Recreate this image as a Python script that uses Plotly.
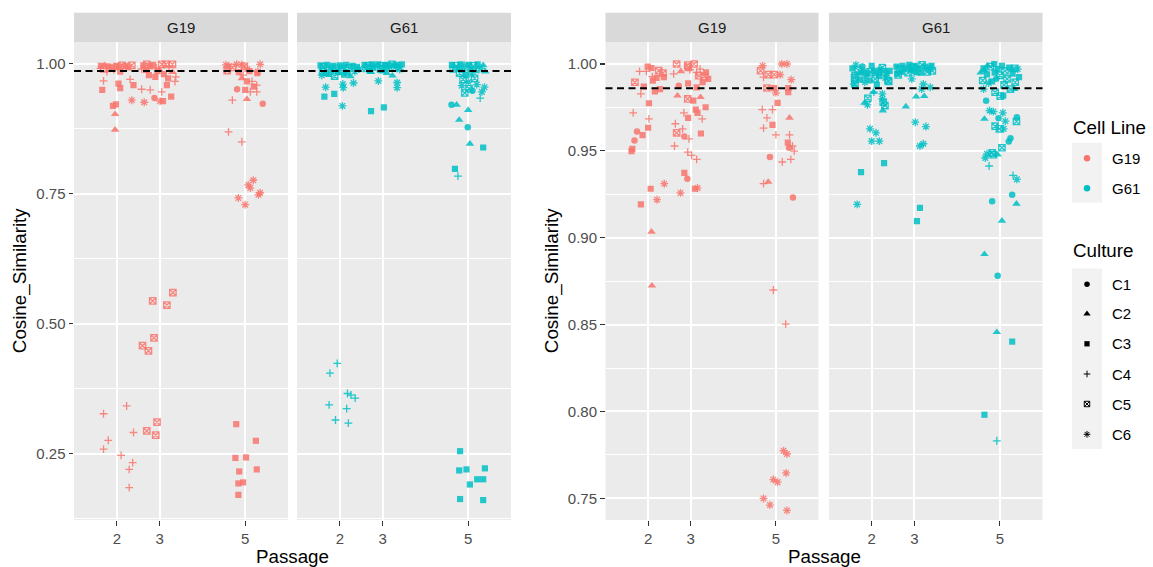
import plotly.graph_objects as go

# ---------------- data ----------------
CULTURES = ["C1", "C2", "C3", "C4", "C5", "C6"]
CELL_LINES = ["G19", "G61"]
PASSAGE_TICKS = [2, 3, 5]
FULL_Y_TICKS = [0.25, 0.50, 0.75, 1.00]
ZOOM_Y_TICKS = [0.75, 0.80, 0.85, 0.90, 0.95, 1.00]
REFERENCE_LINE = 0.986

# (culture, jittered passage, cosine similarity) -- left (full range) plot
FULL_G19 = [
    ("C3", 1.63, 0.996), ("C2", 1.72, 0.997), ("C3", 1.80, 0.995), ("C5", 1.70, 0.990),
    ("C4", 1.62, 0.991), ("C3", 1.88, 0.993), ("C3", 1.98, 0.996), ("C3", 2.05, 0.994),
    ("C5", 2.12, 0.997), ("C3", 2.20, 0.996), ("C4", 1.93, 0.989), ("C3", 2.27, 0.993),
    ("C5", 2.35, 0.997), ("C3", 2.08, 0.985), ("C4", 1.77, 0.985),
    ("C2", 1.96, 0.873), ("C2", 1.96, 0.903), ("C3", 1.91, 0.919), ("C3", 1.98, 0.922),
    ("C3", 1.66, 0.950), ("C4", 1.69, 0.967), ("C3", 2.04, 0.962), ("C3", 2.08, 0.953),
    ("C3", 2.39, 0.959), ("C4", 2.31, 0.970), ("C6", 2.35, 0.930), ("C6", 2.64, 0.926),
    ("C1", 2.88, 0.934), ("C6", 3.01, 0.928), ("C3", 3.08, 0.928), ("C4", 2.58, 0.951),
    ("C4", 2.78, 0.950), ("C4", 3.05, 0.946), ("C3", 3.27, 0.937), ("C4", 3.36, 0.966),
    ("C3", 3.17, 0.959),
    ("C3", 2.62, 0.997), ("C5", 2.70, 0.999), ("C3", 2.78, 0.995), ("C3", 2.85, 0.998),
    ("C4", 2.92, 0.992), ("C5", 3.05, 0.999), ("C5", 3.15, 0.999), ("C5", 3.30, 0.999),
    ("C4", 3.22, 0.995), ("C3", 2.68, 0.988), ("C3", 2.95, 0.986), ("C2", 3.30, 0.984),
    ("C4", 3.38, 0.975), ("C3", 2.75, 0.978), ("C3", 3.10, 0.980), ("C4", 2.58, 0.990),
    ("C3", 3.20, 0.972), ("C3", 2.90, 0.975), ("C2", 3.00, 0.988),
    ("C5", 3.31, 0.560), ("C5", 2.84, 0.544), ("C5", 3.17, 0.536), ("C5", 2.87, 0.473),
    ("C5", 2.60, 0.458), ("C5", 2.74, 0.448), ("C4", 2.23, 0.342), ("C4", 1.69, 0.327),
    ("C5", 2.94, 0.311), ("C5", 2.70, 0.294), ("C5", 2.91, 0.286), ("C4", 2.39, 0.291),
    ("C4", 1.80, 0.276), ("C4", 1.69, 0.259), ("C4", 2.10, 0.247), ("C4", 2.37, 0.233),
    ("C4", 2.29, 0.220), ("C4", 2.29, 0.185),
    ("C6", 4.55, 0.998), ("C6", 4.62, 0.995), ("C5", 4.70, 0.993), ("C6", 4.80, 0.999),
    ("C6", 4.92, 0.998), ("C5", 4.98, 0.995), ("C6", 5.05, 0.990), ("C3", 5.10, 0.986),
    ("C5", 4.58, 0.987), ("C3", 4.85, 0.984), ("C6", 5.35, 0.999), ("C6", 5.30, 0.985),
    ("C3", 5.28, 0.982), ("C4", 4.95, 0.978),
    ("C2", 4.92, 0.972), ("C3", 5.04, 0.966), ("C4", 5.16, 0.966), ("C3", 5.00, 0.950),
    ("C4", 5.12, 0.946), ("C4", 5.27, 0.946), ("C4", 5.27, 0.959), ("C3", 5.20, 0.956),
    ("C4", 4.70, 0.930), ("C1", 4.81, 0.951), ("C2", 5.04, 0.932), ("C1", 5.41, 0.923),
    ("C4", 4.61, 0.869), ("C4", 4.92, 0.850),
    ("C6", 5.19, 0.776), ("C6", 5.07, 0.767), ("C6", 5.12, 0.761), ("C6", 5.31, 0.748),
    ("C6", 5.35, 0.752), ("C6", 4.84, 0.742), ("C6", 5.00, 0.729),
    ("C3", 4.79, 0.307), ("C3", 5.25, 0.275), ("C3", 4.77, 0.242), ("C3", 5.02, 0.243),
    ("C3", 4.86, 0.216), ("C3", 5.27, 0.220), ("C3", 4.84, 0.193), ("C3", 4.95, 0.195),
    ("C3", 4.84, 0.171),
]

FULL_G61 = [
    ("C3", 1.55, 0.997), ("C5", 1.62, 0.994), ("C3", 1.70, 0.998), ("C6", 1.78, 0.993),
    ("C3", 1.85, 0.996), ("C5", 1.92, 0.991), ("C3", 2.00, 0.997), ("C6", 2.08, 0.994),
    ("C3", 2.15, 0.998), ("C5", 2.22, 0.992), ("C3", 2.30, 0.996), ("C3", 2.40, 0.994),
    ("C5", 1.60, 0.985), ("C3", 1.68, 0.982), ("C6", 1.80, 0.987), ("C3", 1.95, 0.984),
    ("C5", 2.05, 0.986), ("C3", 2.18, 0.983), ("C6", 2.35, 0.985), ("C2", 1.75, 0.978),
    ("C2", 2.25, 0.976), ("C6", 1.58, 0.978), ("C5", 1.88, 0.976), ("C3", 2.10, 0.979),
    ("C6", 2.45, 0.990),
    ("C6", 1.67, 0.955), ("C3", 1.87, 0.942), ("C3", 1.64, 0.937), ("C6", 2.07, 0.961),
    ("C6", 2.08, 0.954), ("C6", 2.32, 0.963), ("C6", 2.06, 0.919),
    ("C3", 2.58, 0.998), ("C5", 2.66, 0.996), ("C3", 2.74, 0.999), ("C6", 2.82, 0.997),
    ("C3", 2.90, 0.999), ("C5", 2.98, 0.996), ("C3", 3.06, 0.998), ("C3", 3.14, 0.997),
    ("C5", 3.22, 0.999), ("C3", 3.30, 0.998), ("C6", 3.38, 0.996), ("C3", 3.45, 0.999),
    ("C5", 2.62, 0.991), ("C3", 2.78, 0.992), ("C5", 2.95, 0.990), ("C3", 3.10, 0.991),
    ("C5", 3.28, 0.992), ("C6", 3.40, 0.989), ("C3", 2.70, 0.987), ("C2", 3.00, 0.985),
    ("C6", 2.90, 0.967), ("C6", 3.34, 0.964), ("C6", 3.34, 0.954), ("C3", 2.73, 0.909),
    ("C3", 3.03, 0.916), ("C2", 2.73, 0.984), ("C2", 3.10, 0.982), ("C2", 3.23, 0.977),
    ("C3", 4.62, 0.998), ("C5", 4.72, 0.996), ("C3", 4.82, 0.999), ("C6", 4.92, 0.997),
    ("C3", 5.02, 0.998), ("C5", 5.12, 0.996), ("C3", 5.22, 0.999), ("C2", 5.35, 0.997),
    ("C5", 4.65, 0.990), ("C3", 4.78, 0.991), ("C6", 4.90, 0.988), ("C3", 5.05, 0.990),
    ("C5", 5.18, 0.989), ("C6", 5.30, 0.991), ("C5", 4.80, 0.982), ("C3", 4.95, 0.978),
    ("C6", 5.08, 0.980), ("C5", 4.88, 0.970), ("C6", 5.00, 0.965), ("C5", 5.15, 0.972),
    ("C6", 4.85, 0.958), ("C5", 5.02, 0.952), ("C6", 5.20, 0.960), ("C1", 5.10, 0.948),
    ("C5", 4.92, 0.944), ("C6", 5.38, 0.955), ("C2", 5.40, 0.985),
    ("C1", 4.61, 0.921), ("C2", 4.73, 0.921), ("C2", 5.00, 0.911), ("C2", 4.79, 0.892),
    ("C1", 4.99, 0.878), ("C2", 5.04, 0.846), ("C3", 5.35, 0.839), ("C3", 4.69, 0.798),
    ("C4", 4.76, 0.784), ("C4", 5.28, 0.934), ("C6", 5.32, 0.946),
    ("C4", 1.94, 0.424), ("C4", 1.77, 0.405), ("C4", 2.18, 0.366), ("C4", 2.26, 0.363),
    ("C4", 2.36, 0.357), ("C4", 1.75, 0.344), ("C4", 2.16, 0.337), ("C4", 1.90, 0.315),
    ("C4", 2.20, 0.309),
    ("C3", 4.81, 0.255), ("C3", 4.79, 0.218), ("C3", 4.96, 0.220), ("C3", 5.39, 0.222),
    ("C3", 5.04, 0.191), ("C3", 5.21, 0.201), ("C3", 5.35, 0.201), ("C3", 4.81, 0.163),
    ("C3", 5.35, 0.161),
]

# right (zoomed) plot
ZOOM_G19 = [
    ("C5", 2.67, 1.000), ("C3", 1.99, 0.9985), ("C3", 2.08, 0.9977), ("C4", 1.80, 0.9958),
    ("C4", 1.96, 0.9958), ("C5", 2.25, 0.9962), ("C5", 2.35, 0.9947), ("C4", 2.10, 0.9927),
    ("C3", 2.11, 0.9904), ("C3", 2.20, 0.9920), ("C3", 2.37, 0.9924), ("C5", 1.69, 0.9895),
    ("C3", 1.90, 0.9870), ("C3", 2.28, 0.9856), ("C3", 2.16, 0.9843), ("C4", 1.83, 0.9828),
    ("C3", 2.02, 0.9774), ("C4", 1.65, 0.9719), ("C4", 2.02, 0.9684), ("C3", 2.00, 0.9633),
    ("C1", 1.74, 0.9611), ("C3", 1.87, 0.9591), ("C1", 1.68, 0.9560), ("C3", 1.63, 0.9512),
    ("C3", 1.61, 0.9499), ("C6", 2.38, 0.9311), ("C3", 2.06, 0.9282), ("C6", 2.21, 0.9219),
    ("C3", 1.83, 0.9192), ("C2", 2.08, 0.9034), ("C2", 2.09, 0.8724),
    ("C5", 2.93, 0.9994), ("C5", 3.08, 1.000), ("C2", 2.77, 0.9958), ("C4", 2.60, 0.9943),
    ("C5", 2.94, 0.9981), ("C4", 2.98, 0.9967), ("C4", 3.14, 0.9952), ("C4", 3.22, 0.9971),
    ("C3", 3.36, 0.9952), ("C5", 3.19, 0.9933), ("C5", 3.32, 0.9929), ("C3", 3.28, 0.9895),
    ("C3", 3.41, 0.9914), ("C1", 2.72, 0.9875), ("C3", 2.94, 0.9889), ("C3", 3.14, 0.9866),
    ("C2", 2.69, 0.9818), ("C5", 2.93, 0.9799), ("C3", 3.06, 0.9789), ("C2", 3.23, 0.9809),
    ("C3", 3.35, 0.9751), ("C3", 3.12, 0.9738), ("C3", 3.16, 0.9719), ("C4", 2.84, 0.9719),
    ("C3", 2.94, 0.9690), ("C4", 3.27, 0.9684), ("C4", 2.64, 0.9656), ("C4", 2.81, 0.9627),
    ("C5", 2.67, 0.9604), ("C3", 3.24, 0.9600), ("C1", 2.85, 0.9583), ("C4", 2.96, 0.9569),
    ("C4", 2.62, 0.9528), ("C4", 2.93, 0.9493), ("C4", 3.02, 0.9474), ("C4", 3.14, 0.9451),
    ("C3", 2.85, 0.9373), ("C1", 2.92, 0.9340), ("C3", 3.10, 0.9282), ("C6", 3.16, 0.9286),
    ("C6", 2.76, 0.9258),
    ("C6", 4.69, 0.9990), ("C6", 5.14, 1.000), ("C6", 5.26, 1.000), ("C5", 4.64, 0.9962),
    ("C4", 4.71, 0.9924), ("C5", 4.82, 0.9939), ("C5", 4.96, 0.9939), ("C6", 5.10, 0.9939),
    ("C6", 5.36, 0.9910), ("C5", 4.79, 0.9862), ("C3", 4.96, 0.9861), ("C3", 5.29, 0.9838),
    ("C3", 5.29, 0.9861), ("C6", 5.00, 0.9834), ("C3", 5.04, 0.9776), ("C4", 4.68, 0.9738),
    ("C4", 4.92, 0.9738), ("C4", 4.79, 0.9690), ("C2", 5.32, 0.9690), ("C3", 4.92, 0.9650),
    ("C4", 4.71, 0.9631), ("C4", 5.00, 0.9592), ("C4", 5.32, 0.9592), ("C3", 5.28, 0.9547),
    ("C1", 5.31, 0.9518), ("C4", 5.39, 0.9528), ("C4", 5.43, 0.9499), ("C1", 4.86, 0.9464),
    ("C4", 5.35, 0.9451), ("C4", 5.15, 0.9436), ("C4", 4.71, 0.9311), ("C2", 4.82, 0.9321),
    ("C1", 5.40, 0.9231), ("C4", 4.94, 0.8699), ("C4", 5.23, 0.8503),
    ("C6", 5.18, 0.7774), ("C6", 5.26, 0.7755), ("C6", 5.24, 0.7646), ("C6", 4.94, 0.7608),
    ("C6", 5.04, 0.7593), ("C6", 4.71, 0.7499), ("C6", 4.86, 0.7461), ("C6", 5.26, 0.7430),
]

ZOOM_G61 = [
    ("C3", 1.55, 0.9975), ("C5", 1.68, 0.9965), ("C3", 1.75, 0.9950), ("C6", 1.82, 0.9960),
    ("C3", 1.90, 0.9945), ("C5", 1.97, 0.9955), ("C3", 2.05, 0.9960), ("C6", 2.12, 0.9950),
    ("C3", 2.20, 0.9965), ("C5", 2.28, 0.9955), ("C3", 2.35, 0.9945), ("C3", 2.42, 0.9960),
    ("C5", 1.60, 0.9920), ("C3", 1.72, 0.9910), ("C6", 1.85, 0.9925), ("C3", 1.95, 0.9905),
    ("C5", 2.08, 0.9915), ("C3", 2.18, 0.9930), ("C6", 2.32, 0.9920), ("C5", 2.40, 0.9900),
    ("C1", 1.78, 0.9985), ("C3", 2.00, 0.9990), ("C5", 2.25, 0.9980), ("C6", 1.58, 0.9885),
    ("C3", 2.12, 0.9880),
    ("C6", 1.63, 0.9994), ("C5", 1.61, 0.9933), ("C5", 1.61, 0.9885), ("C6", 1.84, 0.9895),
    ("C2", 2.04, 0.9838), ("C4", 2.05, 0.9838), ("C5", 1.91, 0.9803), ("C2", 1.83, 0.9776),
    ("C6", 1.90, 0.9765), ("C5", 2.27, 0.9780), ("C5", 2.31, 0.9761), ("C2", 2.26, 0.9732),
    ("C6", 2.25, 0.9828), ("C6", 2.25, 0.9799), ("C5", 2.38, 0.9904), ("C6", 1.96, 0.9627),
    ("C6", 2.10, 0.9604), ("C6", 2.00, 0.9556), ("C6", 2.18, 0.9556), ("C3", 2.29, 0.9430),
    ("C3", 1.75, 0.9378), ("C6", 1.66, 0.9192),
    ("C3", 2.58, 0.9985), ("C5", 2.65, 0.9970), ("C3", 2.72, 0.9990), ("C6", 2.80, 0.9975),
    ("C3", 2.88, 0.9995), ("C5", 2.95, 0.9980), ("C3", 3.02, 0.9990), ("C3", 3.10, 0.9975),
    ("C5", 3.18, 0.9995), ("C3", 3.25, 0.9985), ("C6", 3.32, 0.9970), ("C3", 3.40, 0.9990),
    ("C5", 3.42, 0.9960), ("C3", 2.70, 0.9955), ("C5", 2.85, 0.9950), ("C3", 3.00, 0.9960),
    ("C3", 3.15, 0.9950), ("C5", 3.30, 0.9955), ("C1", 2.92, 0.9965), ("C2", 3.05, 0.9945),
    ("C3", 2.60, 0.9945), ("C6", 3.38, 0.9980),
    ("C5", 2.62, 0.9937), ("C6", 2.94, 0.9914), ("C6", 3.21, 0.9885), ("C6", 3.37, 0.9866),
    ("C6", 3.17, 0.9856), ("C2", 3.04, 0.9812), ("C2", 3.23, 0.9815), ("C2", 2.80, 0.9755),
    ("C6", 3.02, 0.9665), ("C6", 3.27, 0.9640), ("C6", 3.13, 0.9528), ("C6", 3.21, 0.9541),
    ("C3", 3.13, 0.9172), ("C3", 3.06, 0.9095),
    ("C3", 4.62, 0.9975), ("C5", 4.78, 0.9985), ("C3", 4.95, 0.9970), ("C3", 5.05, 0.9990),
    ("C5", 5.12, 0.9960), ("C3", 5.22, 0.9980), ("C5", 5.35, 0.9975), ("C3", 4.70, 0.9940),
    ("C3", 4.88, 0.9950), ("C5", 5.00, 0.9935), ("C3", 5.30, 0.9945), ("C5", 4.60, 0.9905),
    ("C3", 4.82, 0.9900), ("C3", 5.45, 0.9925), ("C5", 5.10, 0.9880), ("C1", 4.92, 0.9915),
    ("C2", 4.55, 0.9950),
    ("C2", 4.64, 0.9962), ("C2", 4.71, 0.9990), ("C3", 4.87, 1.000), ("C6", 5.42, 0.9971),
    ("C2", 5.29, 0.9967), ("C5", 5.17, 0.9914), ("C5", 5.36, 0.9895), ("C6", 4.74, 0.9891),
    ("C6", 4.62, 0.9856), ("C5", 4.89, 0.9838), ("C5", 5.01, 0.9815), ("C3", 5.08, 0.9818),
    ("C2", 5.34, 0.9856), ("C5", 5.25, 0.9856), ("C1", 4.68, 0.9789), ("C6", 4.76, 0.9732),
    ("C6", 4.85, 0.9726), ("C6", 5.07, 0.9719), ("C2", 4.64, 0.9684), ("C1", 4.97, 0.9688),
    ("C6", 5.13, 0.9671), ("C1", 5.40, 0.9694), ("C5", 5.39, 0.9669), ("C5", 4.89, 0.9642),
    ("C5", 4.99, 0.9627), ("C6", 5.09, 0.9627), ("C1", 5.25, 0.9573), ("C1", 5.21, 0.9554),
    ("C5", 5.05, 0.9518), ("C5", 4.82, 0.9489), ("C5", 4.85, 0.9478), ("C6", 4.70, 0.9483),
    ("C6", 4.66, 0.9459), ("C2", 4.95, 0.9478), ("C4", 4.75, 0.9413), ("C4", 5.31, 0.9359),
    ("C6", 5.40, 0.9336), ("C1", 5.29, 0.9248), ("C1", 4.82, 0.9210), ("C2", 5.39, 0.9195),
    ("C2", 5.05, 0.9097), ("C2", 4.64, 0.8905), ("C1", 4.95, 0.8781), ("C2", 4.93, 0.8456),
    ("C3", 5.29, 0.8402), ("C3", 4.64, 0.7981), ("C4", 4.93, 0.7831),
]

# ---------------- styling ----------------
W, H = 1153, 567
FONT = "Liberation Sans"
COLORS = {"G19": "#F8766D", "G61": "#00BFC4"}
SYMBOLS = {"C1": "circle", "C2": "triangle-up", "C3": "square",
           "C4": "cross-thin-open", "C5": "square-x-open", "C6": "asterisk-open"}
SIZES = {"C1": 6.5, "C2": 7.5, "C3": 6.2, "C4": 5.6, "C5": 6.4, "C6": 6.6}
OPEN = {"C4", "C5", "C6"}


def fx(p):
    return p / W


def fy(p):
    return 1 - p / H


STRIP_TOP, PANEL_TOP, PANEL_BOTTOM = 12.7, 42.3, 520.0
PANELS = {  # axis id -> (left px, right px)
    "x": (74.0, 288.0), "x2": (297.0, 511.0),
    "x3": (605.5, 818.5), "x4": (829.0, 1042.5),
}
PANEL_DATA = [("x", "y", "G19", FULL_G19), ("x2", "y", "G61", FULL_G61),
              ("x3", "y2", "G19", ZOOM_G19), ("x4", "y2", "G61", ZOOM_G61)]

fig = go.Figure()

for xa, ya, cl, rows in PANEL_DATA:
    for cu in CULTURES:
        pts = [r for r in rows if r[0] == cu]
        if not pts:
            continue
        is_open = cu in OPEN
        fig.add_trace(go.Scatter(
            x=[p[1] for p in pts], y=[p[2] for p in pts],
            xaxis=xa, yaxis=ya, mode="markers", showlegend=False,
            hoverinfo="skip",
            marker=dict(symbol=SYMBOLS[cu], size=SIZES[cu], color=COLORS[cl],
                        opacity=0.85,
                        line=dict(width=1.3 if is_open else 0, color=COLORS[cl])),
        ))

# ---- legend drawn on a hidden pixel-scaled axis ----
LEG_X0 = 1060.0
leg_items_cell = [("G19", 158.3), ("G61", 188.3)]
leg_items_cult = [("C1", 284.3), ("C2", 313.8), ("C3", 343.8), ("C4", 374.0),
                  ("C5", 404.0), ("C6", 434.3)]
for cl, yy in leg_items_cell:
    fig.add_trace(go.Scatter(x=[1087], y=[yy], xaxis="x5", yaxis="y5", mode="markers",
                             showlegend=False, hoverinfo="skip",
                             marker=dict(symbol="circle", size=6.5, color=COLORS[cl],
                                         line=dict(width=0))))
for cu, yy in leg_items_cult:
    is_open = cu in OPEN
    fig.add_trace(go.Scatter(x=[1087], y=[yy], xaxis="x5", yaxis="y5", mode="markers",
                             showlegend=False, hoverinfo="skip",
                             marker=dict(symbol=SYMBOLS[cu], size=SIZES[cu] * 0.85,
                                         color="black",
                                         line=dict(width=1.0 if is_open else 0,
                                                   color="black"))))

xbase = dict(range=[1, 6], tickmode="array", tickvals=PASSAGE_TICKS,
             ticktext=[str(t) for t in PASSAGE_TICKS], ticks="outside", ticklen=4.5,
             tickwidth=1.1, tickcolor="#333333",
             tickfont=dict(family=FONT, size=15, color="#4d4d4d"),
             showgrid=True, gridcolor="white", gridwidth=2, zeroline=False,
             showline=False, automargin=False, fixedrange=True)
ydom = [fy(PANEL_BOTTOM), fy(PANEL_TOP)]
ybase = dict(ticks="outside", ticklen=4.5, tickwidth=1.1, tickcolor="#333333",
             tickfont=dict(family=FONT, size=15, color="#4d4d4d"),
             showgrid=True, gridcolor="white", gridwidth=2, zeroline=False,
             showline=False, automargin=False, fixedrange=True, domain=ydom)

layout = dict(
    width=W, height=H, margin=dict(l=0, r=0, t=0, b=0),
    paper_bgcolor="white", plot_bgcolor="rgba(0,0,0,0)",
    font=dict(family=FONT, color="black"),
    showlegend=False,
    xaxis=dict(xbase, domain=[fx(PANELS["x"][0]), fx(PANELS["x"][1])], anchor="y"),
    xaxis2=dict(xbase, domain=[fx(PANELS["x2"][0]), fx(PANELS["x2"][1])], anchor="y"),
    xaxis3=dict(xbase, domain=[fx(PANELS["x3"][0]), fx(PANELS["x3"][1])], anchor="y2"),
    xaxis4=dict(xbase, domain=[fx(PANELS["x4"][0]), fx(PANELS["x4"][1])], anchor="y2"),
    yaxis=dict(ybase, range=[0.1227, 1.0413], tickmode="array", tickvals=FULL_Y_TICKS,
               ticktext=["%.2f" % t for t in FULL_Y_TICKS], anchor="x",
               minor=dict(tickmode="array", tickvals=[0.125, 0.375, 0.625, 0.875],
                          showgrid=True, gridcolor="white", gridwidth=1, ticks="")),
    yaxis2=dict(ybase, range=[0.7375, 1.0125], tickmode="array", tickvals=ZOOM_Y_TICKS,
                ticktext=["%.2f" % t for t in ZOOM_Y_TICKS], anchor="x3",
                minor=dict(tickmode="array",
                           tickvals=[0.775, 0.825, 0.875, 0.925, 0.975],
                           showgrid=True, gridcolor="white", gridwidth=1, ticks="")),
    xaxis5=dict(domain=[fx(LEG_X0), 1], range=[LEG_X0, W], visible=False,
                anchor="y5", fixedrange=True),
    yaxis5=dict(domain=[0, 1], range=[H, 0], visible=False, anchor="x5",
                fixedrange=True),
)
fig.update_layout(**layout)

shapes = []
annotations = []
for xa, ya, cl, _ in PANEL_DATA:
    x0, x1 = PANELS[xa]
    # panel background
    shapes.append(dict(type="rect", xref=f"{xa} domain", yref=f"{ya} domain",
                       x0=0, x1=1, y0=0, y1=1, fillcolor="#ebebeb",
                       line=dict(width=0), layer="below"))
    # strip
    shapes.append(dict(type="rect", xref="paper", yref="paper",
                       x0=fx(x0), x1=fx(x1), y0=fy(PANEL_TOP), y1=fy(STRIP_TOP),
                       fillcolor="#d9d9d9", line=dict(width=0), layer="below"))
    annotations.append(dict(text=cl, xref="paper", yref="paper",
                            x=fx((x0 + x1) / 2), y=fy((STRIP_TOP + PANEL_TOP) / 2),
                            xanchor="center", yanchor="middle", showarrow=False,
                            font=dict(family=FONT, size=15, color="#1a1a1a")))
    # reference line
    shapes.append(dict(type="line", xref=f"{xa} domain", yref=ya, x0=0, x1=1,
                       y0=REFERENCE_LINE, y1=REFERENCE_LINE,
                       line=dict(color="black", width=2, dash="7px,4.5px"),
                       layer="above"))

# axis titles
for cx in [(74 + 511) / 2, (605.5 + 1042.5) / 2]:
    annotations.append(dict(text="Passage", xref="paper", yref="paper", x=fx(cx),
                            y=fy(556.5), xanchor="center", yanchor="middle",
                            showarrow=False, font=dict(family=FONT, size=18.75)))
for cx in [20, 552]:
    annotations.append(dict(text="Cosine_Similarity", xref="paper", yref="paper",
                            x=fx(cx), y=fy((PANEL_TOP + PANEL_BOTTOM) / 2),
                            xanchor="center", yanchor="middle", textangle=-90,
                            showarrow=False, font=dict(family=FONT, size=18.75)))

# legend backgrounds / labels
shapes.append(dict(type="rect", xref="paper", yref="paper", x0=fx(1072), x1=fx(1102),
                   y0=fy(202.7), y1=fy(142.7), fillcolor="#f2f2f2",
                   line=dict(width=0), layer="below"))
shapes.append(dict(type="rect", xref="paper", yref="paper", x0=fx(1072), x1=fx(1102),
                   y0=fy(449), y1=fy(268.5), fillcolor="#f2f2f2",
                   line=dict(width=0), layer="below"))
annotations.append(dict(text="Cell Line", xref="paper", yref="paper", x=fx(1071),
                        y=fy(127), xanchor="left", yanchor="middle", showarrow=False,
                        font=dict(family=FONT, size=18.75)))
annotations.append(dict(text="Culture", xref="paper", yref="paper", x=fx(1071),
                        y=fy(250), xanchor="left", yanchor="middle", showarrow=False,
                        font=dict(family=FONT, size=18.75)))
for lab, yy in leg_items_cell + leg_items_cult:
    annotations.append(dict(text=lab, xref="paper", yref="paper", x=fx(1110),
                            y=fy(yy), xanchor="left", yanchor="middle",
                            showarrow=False,
                            font=dict(family=FONT, size=15, color="black")))

fig.update_layout(shapes=shapes, annotations=annotations)
fig.write_html("out.html", config={"displayModeBar": False, "staticPlot": True},
               post_script="document.body.style.margin='0px';")
